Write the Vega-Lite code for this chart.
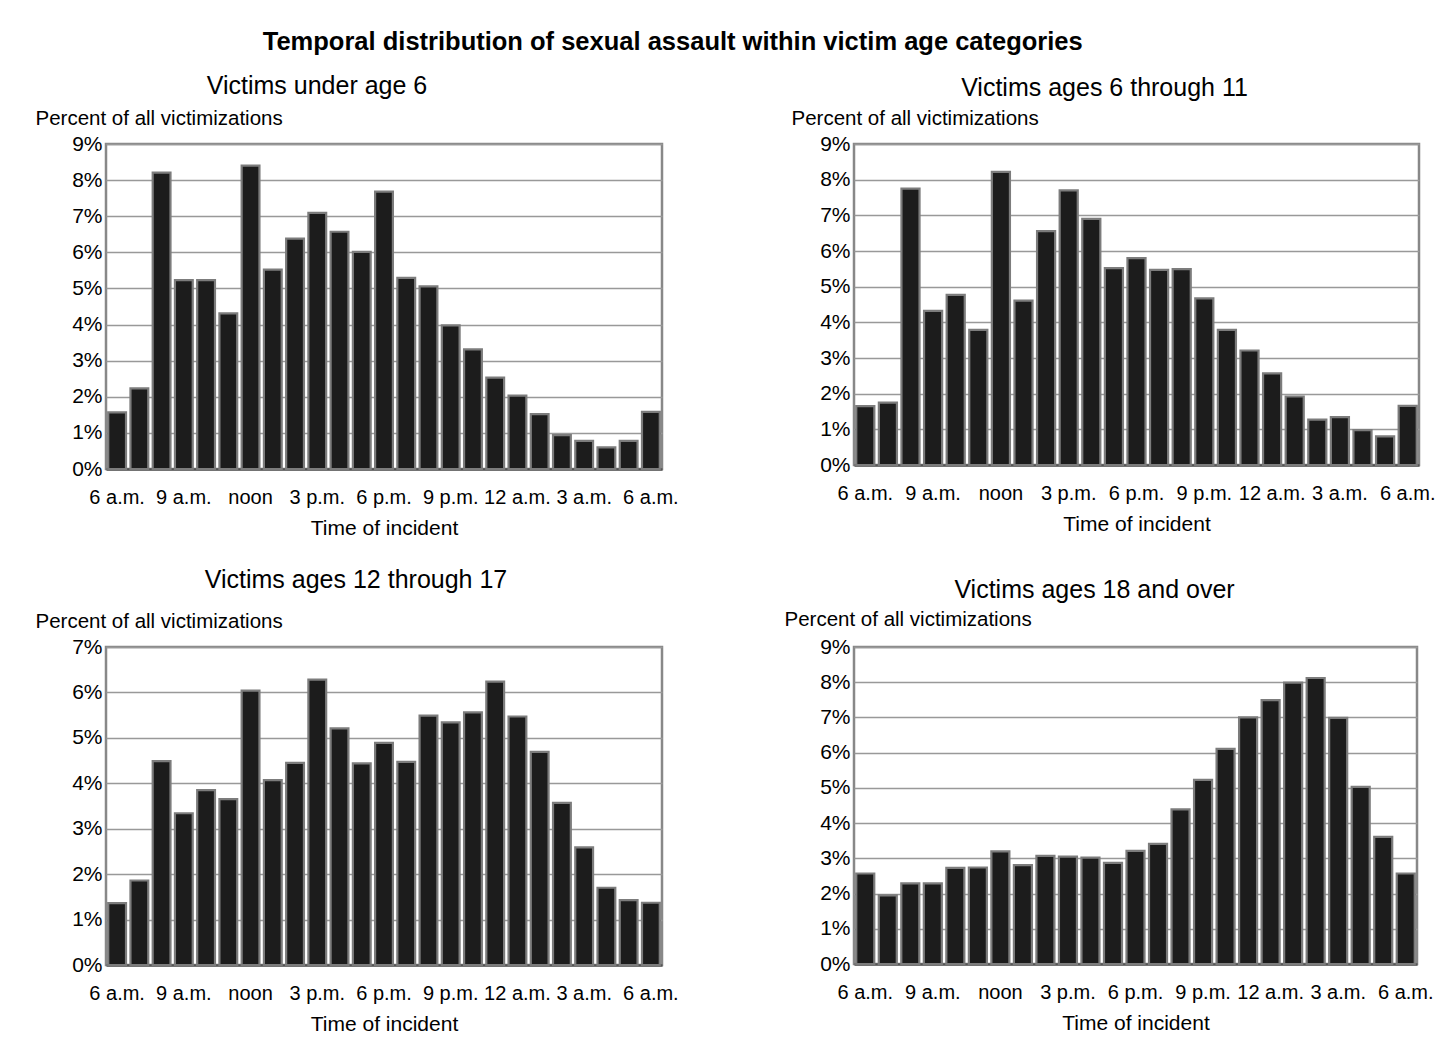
{
  "$schema": "https://vega.github.io/schema/vega-lite/v6.json",
  "background": "white",
  "padding": {"left": 33, "top": 30, "right": 10, "bottom": 10},
  "title": {
    "text": "Temporal distribution of sexual assault within victim age categories",
    "fontSize": 25.5,
    "fontWeight": "bold",
    "color": "black",
    "anchor": "start",
    "frame": "bounds",
    "dx": 229,
    "offset": 17
  },
  "datasets": {
    "under6": [
      {"slot": 0, "pct": 1.57}, {"slot": 1, "pct": 2.23}, {"slot": 2, "pct": 8.21}, {"slot": 3, "pct": 5.23}, {"slot": 4, "pct": 5.23},
      {"slot": 5, "pct": 4.31}, {"slot": 6, "pct": 8.4}, {"slot": 7, "pct": 5.52}, {"slot": 8, "pct": 6.38}, {"slot": 9, "pct": 7.09},
      {"slot": 10, "pct": 6.57}, {"slot": 11, "pct": 6.01}, {"slot": 12, "pct": 7.68}, {"slot": 13, "pct": 5.29}, {"slot": 14, "pct": 5.06},
      {"slot": 15, "pct": 3.98}, {"slot": 16, "pct": 3.31}, {"slot": 17, "pct": 2.53}, {"slot": 18, "pct": 2.03}, {"slot": 19, "pct": 1.52},
      {"slot": 20, "pct": 0.94}, {"slot": 21, "pct": 0.78}, {"slot": 22, "pct": 0.6}, {"slot": 23, "pct": 0.78}, {"slot": 24, "pct": 1.58}
    ],
    "ages6to11": [
      {"slot": 0, "pct": 1.65}, {"slot": 1, "pct": 1.75}, {"slot": 2, "pct": 7.75}, {"slot": 3, "pct": 4.32}, {"slot": 4, "pct": 4.77},
      {"slot": 5, "pct": 3.79}, {"slot": 6, "pct": 8.22}, {"slot": 7, "pct": 4.61}, {"slot": 8, "pct": 6.56}, {"slot": 9, "pct": 7.7},
      {"slot": 10, "pct": 6.9}, {"slot": 11, "pct": 5.52}, {"slot": 12, "pct": 5.8}, {"slot": 13, "pct": 5.47}, {"slot": 14, "pct": 5.49},
      {"slot": 15, "pct": 4.67}, {"slot": 16, "pct": 3.79}, {"slot": 17, "pct": 3.21}, {"slot": 18, "pct": 2.57}, {"slot": 19, "pct": 1.92},
      {"slot": 20, "pct": 1.27}, {"slot": 21, "pct": 1.34}, {"slot": 22, "pct": 0.98}, {"slot": 23, "pct": 0.8}, {"slot": 24, "pct": 1.66}
    ],
    "ages12to17": [
      {"slot": 0, "pct": 1.36}, {"slot": 1, "pct": 1.86}, {"slot": 2, "pct": 4.49}, {"slot": 3, "pct": 3.34}, {"slot": 4, "pct": 3.85},
      {"slot": 5, "pct": 3.65}, {"slot": 6, "pct": 6.04}, {"slot": 7, "pct": 4.07}, {"slot": 8, "pct": 4.45}, {"slot": 9, "pct": 6.28},
      {"slot": 10, "pct": 5.21}, {"slot": 11, "pct": 4.44}, {"slot": 12, "pct": 4.89}, {"slot": 13, "pct": 4.47}, {"slot": 14, "pct": 5.49},
      {"slot": 15, "pct": 5.34}, {"slot": 16, "pct": 5.56}, {"slot": 17, "pct": 6.24}, {"slot": 18, "pct": 5.47}, {"slot": 19, "pct": 4.69},
      {"slot": 20, "pct": 3.57}, {"slot": 21, "pct": 2.59}, {"slot": 22, "pct": 1.7}, {"slot": 23, "pct": 1.43}, {"slot": 24, "pct": 1.37}
    ],
    "ages18plus": [
      {"slot": 0, "pct": 2.57}, {"slot": 1, "pct": 1.95}, {"slot": 2, "pct": 2.29}, {"slot": 3, "pct": 2.29}, {"slot": 4, "pct": 2.73},
      {"slot": 5, "pct": 2.74}, {"slot": 6, "pct": 3.2}, {"slot": 7, "pct": 2.81}, {"slot": 8, "pct": 3.07}, {"slot": 9, "pct": 3.05},
      {"slot": 10, "pct": 3.02}, {"slot": 11, "pct": 2.87}, {"slot": 12, "pct": 3.21}, {"slot": 13, "pct": 3.41}, {"slot": 14, "pct": 4.39},
      {"slot": 15, "pct": 5.23}, {"slot": 16, "pct": 6.11}, {"slot": 17, "pct": 7.0}, {"slot": 18, "pct": 7.49}, {"slot": 19, "pct": 7.99},
      {"slot": 20, "pct": 8.12}, {"slot": 21, "pct": 6.99}, {"slot": 22, "pct": 5.03}, {"slot": 23, "pct": 3.61}, {"slot": 24, "pct": 2.57}
    ]
  },
  "config": {
    "font": "Liberation Sans",
    "view": {"stroke": "#888888", "strokeWidth": 2.5},
    "title": {"fontSize": 25, "fontWeight": "normal", "color": "black", "anchor": "middle", "frame": "group", "offset": 9},
    "axisX": {
      "labelAngle": 0, "labelFontSize": 20, "labelPadding": 18, "labelColor": "black", "labelOverlap": false,
      "ticks": false, "domainColor": "#555555", "domainWidth": 2.5, "grid": false,
      "titleFontSize": 21, "titleFontWeight": "normal", "titleColor": "black", "titlePadding": 10,
      "labelExpr": "['6 a.m.','9 a.m.','noon','3 p.m.','6 p.m.','9 p.m.','12 a.m.','3 a.m.','6 a.m.'][datum.value / 3]"
    },
    "axisY": {
      "labelFontSize": 21, "labelPadding": 4, "labelColor": "black", "ticks": false, "domain": false,
      "gridColor": "#999999", "gridWidth": 1.5, "labelExpr": "datum.value + '%'",
      "titleAngle": 0, "titleAlign": "left", "titleBaseline": "alphabetic", "titleFontSize": 20.5,
      "titleFontWeight": "normal", "titleColor": "black"
    }
  },
  "columns": 2,
  "spacing": {"row": 178, "column": 192},
  "bounds": "flush",
  "concat": [
    {
      "width": 556, "height": 325,
      "data": {"name": "under6"},
      "title": {"text": "Victims under age 6", "dx": -67},
      "mark": {"type": "bar", "fill": "#1c1c1c", "stroke": "#7c7c7c", "strokeWidth": 2.2},
      "encoding": {
        "x": {"field": "slot", "type": "ordinal", "title": "Time of incident",
          "scale": {"paddingInner": 0.2, "paddingOuter": 0.1},
          "axis": {"values": [0, 3, 6, 9, 12, 15, 18, 21, 24]}},
        "y": {"field": "pct", "type": "quantitative", "title": "Percent of all victimizations",
          "scale": {"domain": [0, 9], "nice": false},
          "axis": {"values": [0, 1, 2, 3, 4, 5, 6, 7, 8, 9], "titleX": -71, "titleY": -20}}
      }
    },
    {
      "width": 565, "height": 321,
      "data": {"name": "ages6to11"},
      "title": {"text": "Victims ages 6 through 11", "dx": -32, "offset": 7},
      "mark": {"type": "bar", "fill": "#1c1c1c", "stroke": "#7c7c7c", "strokeWidth": 2.2},
      "encoding": {
        "x": {"field": "slot", "type": "ordinal", "title": "Time of incident",
          "scale": {"paddingInner": 0.2, "paddingOuter": 0.1},
          "axis": {"values": [0, 3, 6, 9, 12, 15, 18, 21, 24]}},
        "y": {"field": "pct", "type": "quantitative", "title": "Percent of all victimizations",
          "scale": {"domain": [0, 9], "nice": false},
          "axis": {"values": [0, 1, 2, 3, 4, 5, 6, 7, 8, 9], "titleX": -63, "titleY": -20}}
      }
    },
    {
      "width": 556, "height": 318,
      "data": {"name": "ages12to17"},
      "title": {"text": "Victims ages 12 through 17", "dx": -28, "offset": 18},
      "mark": {"type": "bar", "fill": "#1c1c1c", "stroke": "#7c7c7c", "strokeWidth": 2.2},
      "encoding": {
        "x": {"field": "slot", "type": "ordinal", "title": "Time of incident",
          "scale": {"paddingInner": 0.2, "paddingOuter": 0.1},
          "axis": {"values": [0, 3, 6, 9, 12, 15, 18, 21, 24]}},
        "y": {"field": "pct", "type": "quantitative", "title": "Percent of all victimizations",
          "scale": {"domain": [0, 7], "nice": false},
          "axis": {"values": [0, 1, 2, 3, 4, 5, 6, 7], "titleX": -71, "titleY": -20}}
      }
    },
    {
      "width": 563, "height": 317,
      "data": {"name": "ages18plus"},
      "title": {"text": "Victims ages 18 and over", "dx": -41, "offset": 6},
      "mark": {"type": "bar", "fill": "#1c1c1c", "stroke": "#7c7c7c", "strokeWidth": 2.2},
      "encoding": {
        "x": {"field": "slot", "type": "ordinal", "title": "Time of incident",
          "scale": {"paddingInner": 0.2, "paddingOuter": 0.1},
          "axis": {"values": [0, 3, 6, 9, 12, 15, 18, 21, 24]}},
        "y": {"field": "pct", "type": "quantitative", "title": "Percent of all victimizations",
          "scale": {"domain": [0, 9], "nice": false},
          "axis": {"values": [0, 1, 2, 3, 4, 5, 6, 7, 8, 9], "titleX": -70, "titleY": -22}}
      }
    }
  ]
}
